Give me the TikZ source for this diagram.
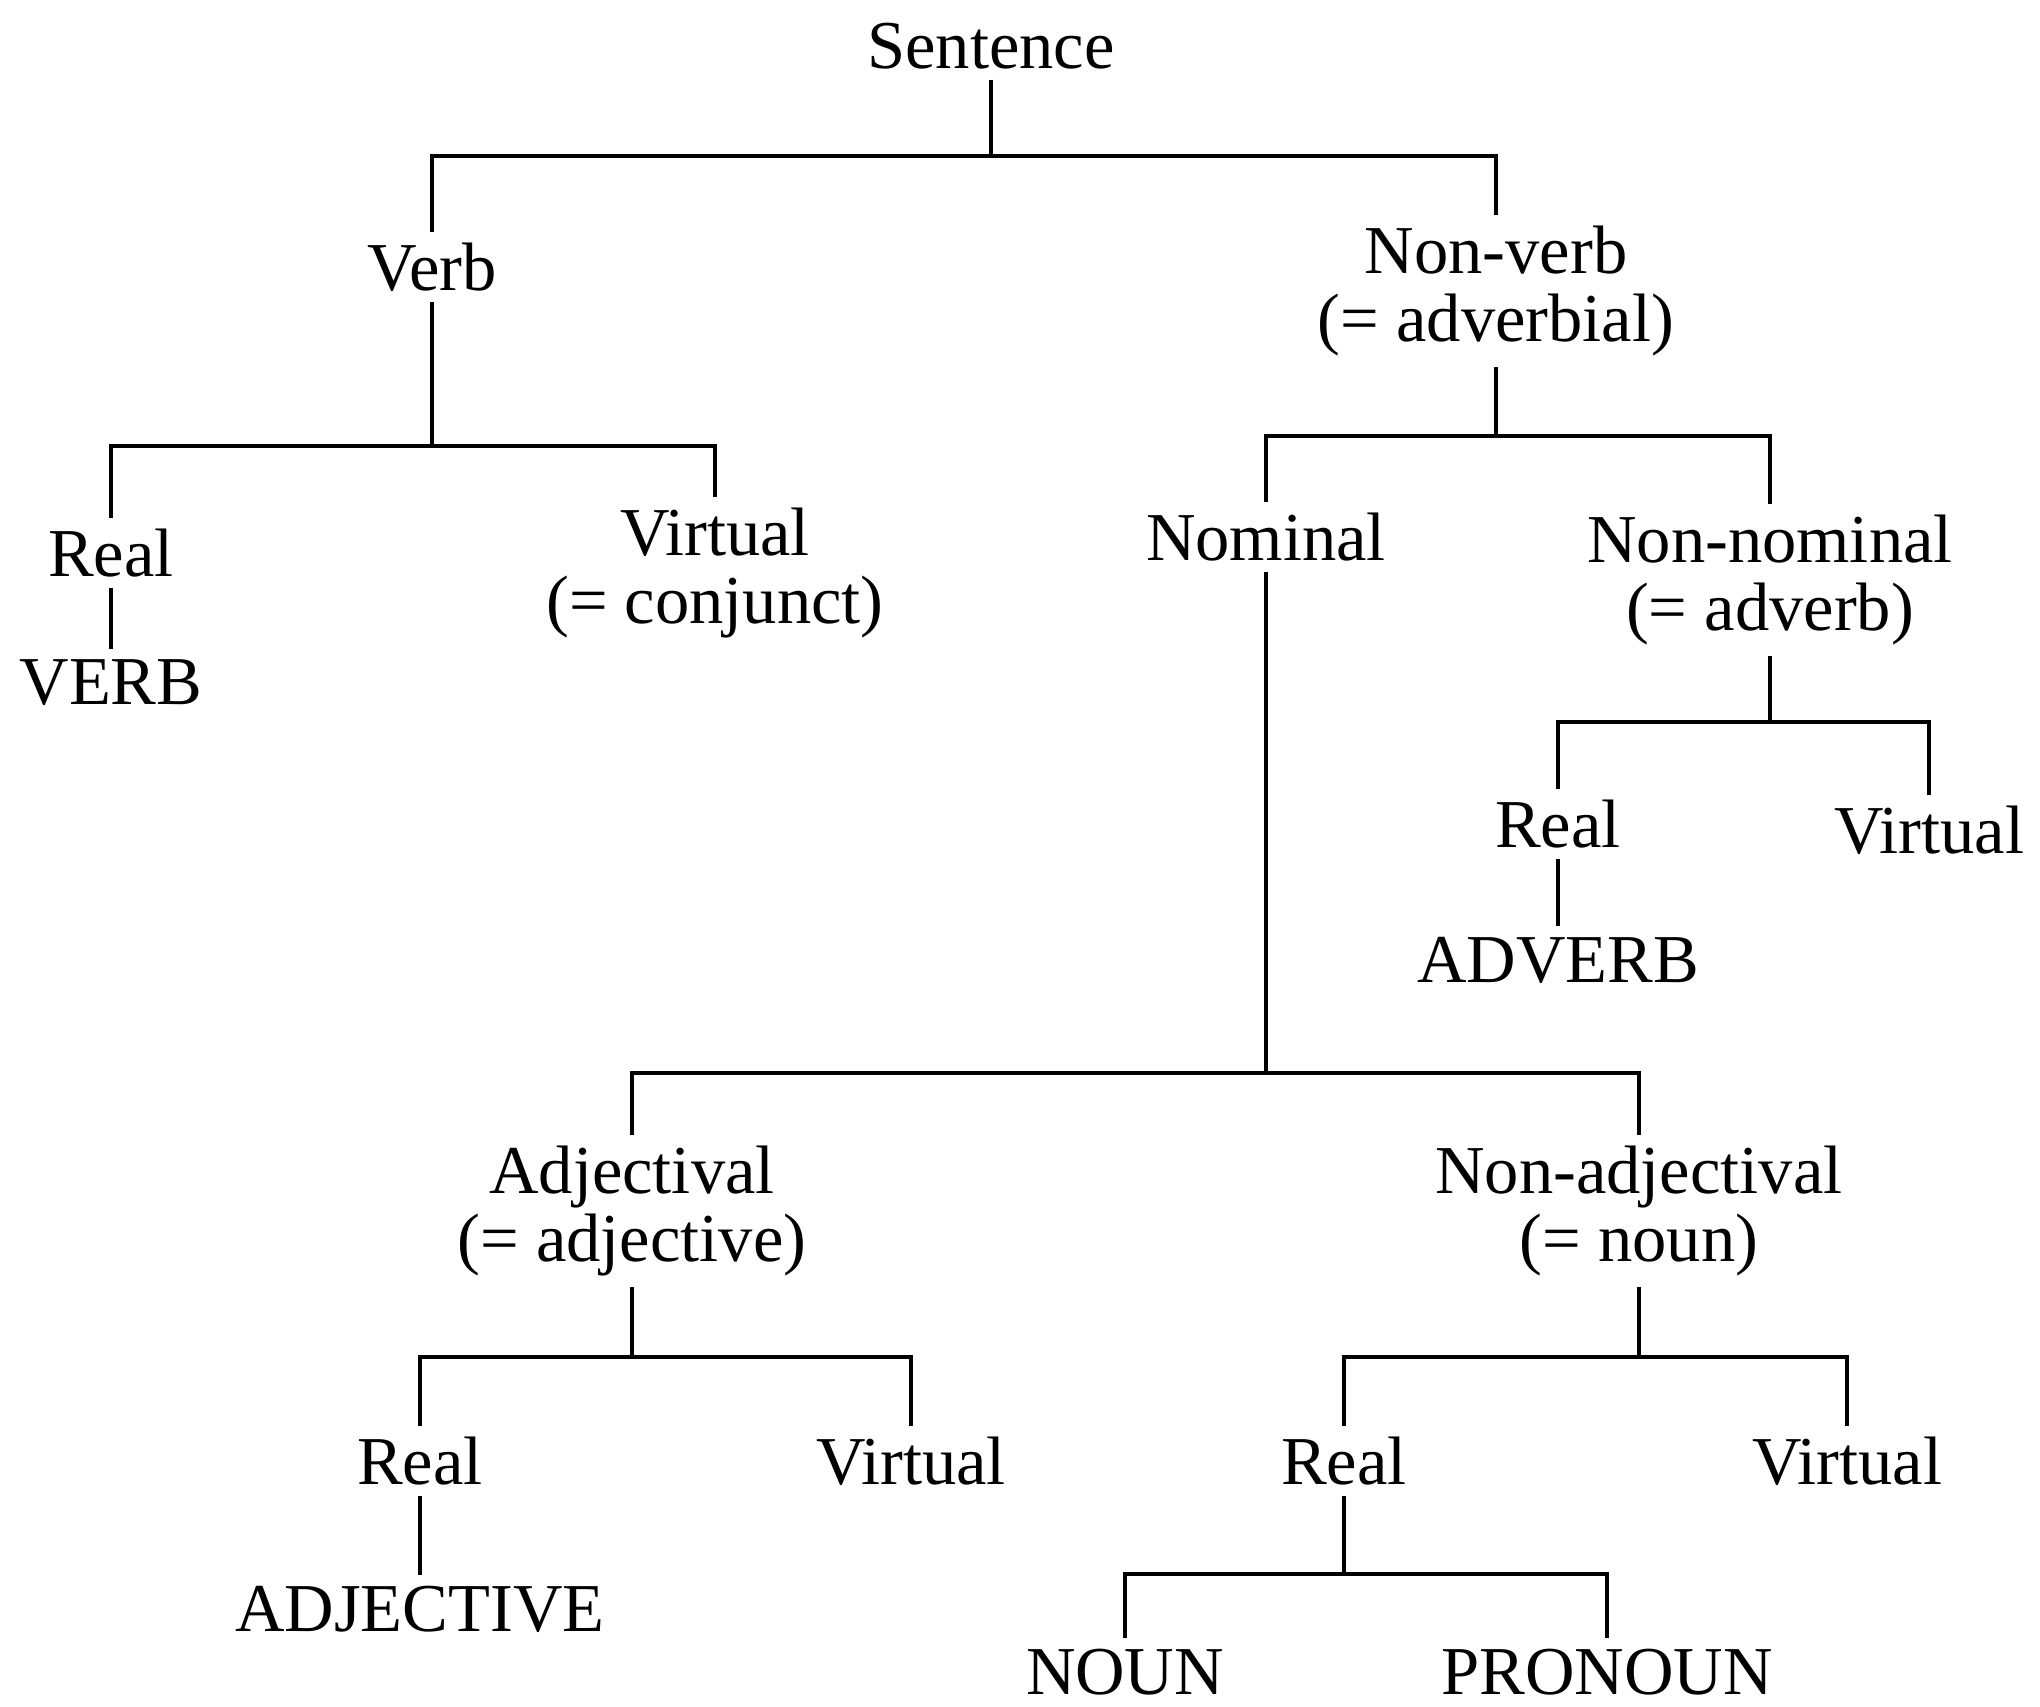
\documentclass[tikz,border=0pt]{standalone}
\usepackage{fontspec}
\setmainfont{Liberation Serif}
\usepackage{tikz}
\tikzstyle{cattext} = [align=center,
inner sep=1pt,
outer sep=2pt,
font=\fontsize{19.5}{19.5}\selectfont]
\tikzstyle{wordtext} = [cattext]
\tikzstyle{junction} = [coordinate]

\begin{document}
\begin{tikzpicture}[line width=1.2pt]
		\useasboundingbox (0,0) rectangle (20.40,-17.07);
		\node (sent) [cattext] at (9.91,-0.46) {Sentence};
		\node (verb) [cattext, below of=sent, node distance=2.21cm, xshift=-5.59cm] {Verb};
		\node (nonverb) [cattext, below of=sent, node distance=2.45cm, xshift=5.05cm] {Non-verb\\(= adverbial)};
		\node (vreal) [cattext, below of=verb, node distance=2.86cm, xshift=-3.21cm] {Real};
		\node (vvirt) [cattext, below of=verb, node distance=3.06cm, xshift=2.83cm] {Virtual\\(= conjunct)};
		\node (vword) [wordtext, below of=vreal, node distance=1.30cm] {VERB};
		\node (nom) [cattext, below of=nonverb, node distance=2.46cm, xshift=-2.30cm] {Nominal};
		\node (nonnom) [cattext, below of=nonverb, node distance=2.89cm, xshift=2.74cm] {Non-nominal\\(= adverb)};
		\node (nreal) [cattext, below of=nonnom, node distance=2.44cm, xshift=-2.12cm] {Real};
		\node (nvirt) [cattext, below of=nonnom, node distance=2.50cm, xshift=1.59cm] {Virtual};
		\node (nword) [wordtext, below of=nreal, node distance=1.36cm] {ADVERB};
		\node (adj) [cattext, below of=nom, node distance=6.74cm, xshift=-6.34cm] {Adjectival\\(= adjective)};
		\node (nonadj) [cattext, below of=nom, node distance=6.74cm, xshift=3.73cm] {Non-adjectival\\(= noun)};
		\node (areal) [cattext, below of=adj, node distance=2.50cm, xshift=-2.12cm] {Real};
		\node (avirt) [cattext, below of=adj, node distance=2.50cm, xshift=2.79cm] {Virtual};
		\node (aword) [wordtext, below of=areal, node distance=1.48cm] {ADJECTIVE};
		\node (oreal) [cattext, below of=nonadj, node distance=2.50cm, xshift=-2.95cm] {Real};
		\node (ovirt) [cattext, below of=nonadj, node distance=2.50cm, xshift=2.08cm] {Virtual};
		\node (noun) [wordtext, below of=oreal, node distance=2.11cm, xshift=-2.19cm] {NOUN};
		\node (pronoun) [wordtext, below of=oreal, node distance=2.11cm, xshift=2.63cm] {PRONOUN};
		
		\node (js) [junction, below of=sent, node distance=1.10cm] {};
		\node (jv) [junction, below of=verb, node distance=1.79cm] {};
		\node (jn) [junction, below of=nonverb, node distance=1.45cm] {};
		\node (jnn) [junction, below of=nonnom, node distance=1.42cm] {};
		\node (jnom) [junction, below of=nom, node distance=5.36cm] {};
		\node (ja) [junction, below of=adj, node distance=1.46cm] {};
		\node (jna) [junction, below of=nonadj, node distance=1.46cm] {};
		\node (jr) [junction, below of=oreal, node distance=1.13cm] {};
		
		\draw (sent) -- (js);
		\draw (verb) |- (js) -| (nonverb);
		\draw (verb) -- (jv);
		\draw (vreal) |- (jv) -| (vvirt);
		\draw (vreal) -- (vword);
		\draw (nonverb) -- (jn);
		\draw (nom) |- (jn) -| (nonnom);
		\draw (nonnom) -- (jnn);
		\draw (nreal) |- (jnn) -| (nvirt);
		\draw (nreal) -- (nword);
		\draw (nom) -- (jnom);
		\draw (adj) |- (jnom) -| (nonadj);
		\draw (adj) -- (ja);
		\draw (areal) |- (ja) -| (avirt);
		\draw (areal) -- (aword);
		\draw (nonadj) -- (jna);
		\draw (oreal) |- (jna) -| (ovirt);
		\draw (oreal) -- (jr);
		\draw (noun) |- (jr) -| (pronoun);
	\end{tikzpicture}
\end{document}
